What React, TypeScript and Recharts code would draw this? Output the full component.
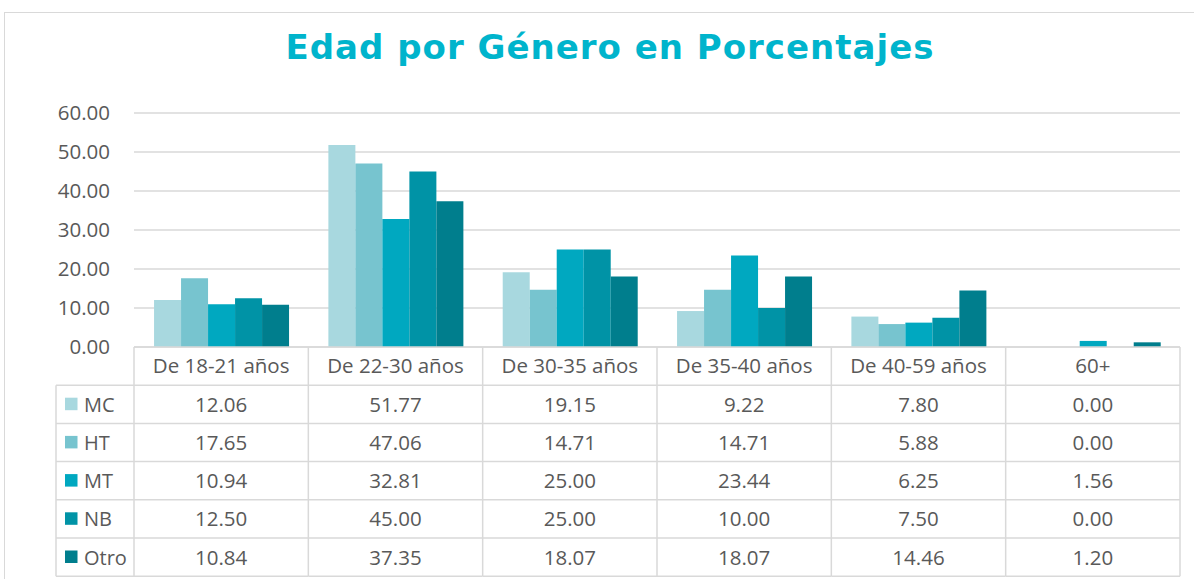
import React from "react";
import { BarChart, Bar, XAxis, YAxis, CartesianGrid } from "recharts";

const categories = [
  "De 18-21 años",
  "De 22-30 años",
  "De 30-35 años",
  "De 35-40 años",
  "De 40-59 años",
  "60+",
];
const seriesNames = ["MC", "HT", "MT", "NB", "Otro"];
const mc = [12.06, 51.77, 19.15, 9.22, 7.8, 0.0];
const ht = [17.65, 47.06, 14.71, 14.71, 5.88, 0.0];
const mt = [10.94, 32.81, 25.0, 23.44, 6.25, 1.56];
const nb = [12.5, 45.0, 25.0, 10.0, 7.5, 0.0];
const otro = [10.84, 37.35, 18.07, 18.07, 14.46, 1.2];
const yTicks = [0, 10, 20, 30, 40, 50, 60];

const colors = ["#A8D8DF", "#77C4CF", "#00A8C0", "#0093A6", "#007E8D"];
const seriesValues = [mc, ht, mt, nb, otro];

const data = categories.map((name, i) => {
  const row: Record<string, string | number> = { name };
  seriesNames.forEach((s, j) => {
    row[s] = seriesValues[j][i];
  });
  return row;
});

const W = 1194;
const H = 579;
const PLOT_LEFT = 134;
const PLOT_RIGHT = 1180;
const BAND = (PLOT_RIGHT - PLOT_LEFT) / categories.length;
const ROW_H = 38.2;
const LINE = "#d9d9d9";
const TEXT = "#595959";
const FONT = "'Open Sans', sans-serif";
const FS = 20.5;

function TableTick(props: any) {
  const { x, y, payload } = props;
  const i = payload.index;
  const left = x - BAND / 2;
  const right = x + BAND / 2;
  const bottom = y + ROW_H * 6;
  return (
    <g fontFamily={FONT} fontSize={FS} fill={TEXT}>
      <line x1={right} y1={y} x2={right} y2={bottom} stroke={LINE} strokeWidth={1.5} />
      {i === 0 && (
        <g>
          <line x1={left} y1={y} x2={left} y2={bottom} stroke={LINE} strokeWidth={1.5} />
          <line x1={56} y1={y + ROW_H} x2={56} y2={bottom} stroke={LINE} strokeWidth={1.5} />
          {seriesNames.map((s, j) => {
            const top = y + ROW_H * (j + 1);
            return (
              <g key={s}>
                <line x1={56} y1={top} x2={left} y2={top} stroke={LINE} strokeWidth={1.5} />
                <rect x={65} y={top + 12.5} width={12.5} height={12.5} fill={colors[j]} />
                <text x={84} y={top + 26.5} fill={TEXT} fontSize={20}>
                  {s}
                </text>
              </g>
            );
          })}
          <line x1={56} y1={bottom} x2={left} y2={bottom} stroke={LINE} strokeWidth={1.5} />
        </g>
      )}
      <text x={x} y={y + 26} textAnchor="middle" fill={TEXT}>
        {payload.value}
      </text>
      {seriesNames.map((s, j) => {
        const top = y + ROW_H * (j + 1);
        return (
          <g key={s}>
            <line x1={left} y1={top} x2={right} y2={top} stroke={LINE} strokeWidth={1.5} />
            <text x={x} y={top + 26.5} textAnchor="middle" fill={TEXT}>
              {seriesValues[j][i].toFixed(2)}
            </text>
          </g>
        );
      })}
      <line x1={left} y1={bottom} x2={right} y2={bottom} stroke={LINE} strokeWidth={1.5} />
    </g>
  );
}

export default function App() {
  return (
    <div
      style={{
        position: "absolute",
        left: 0,
        top: 0,
        width: W,
        height: H,
        overflow: "hidden",
        background: "#fff",
      }}
    >
      <div
        style={{
          position: "absolute",
          left: 4,
          top: 12,
          width: W + 20,
          height: H + 20,
          border: "1.5px solid #d9d9d9",
        }}
      />
      <div
        style={{
          position: "absolute",
          left: 0,
          top: 30,
          width: 1220,
          textAlign: "center",
          fontFamily: "'DejaVu Sans', sans-serif",
          fontWeight: 700,
          fontSize: 34,
          lineHeight: "34px",
          letterSpacing: 1,
          color: "#00B4CC",
        }}
      >
        Edad por Género en Porcentajes
      </div>
      <div style={{ position: "absolute", left: 0, top: 0 }}>
        <BarChart
          width={W}
          height={H}
          data={data}
          margin={{ top: 113, right: W - PLOT_RIGHT, left: 0, bottom: 0 }}
          barCategoryGap="11.5%"
          barGap={0}
        >
          <CartesianGrid vertical={false} stroke={LINE} strokeWidth={1.5} />
          <YAxis
            width={PLOT_LEFT}
            domain={[0, 60]}
            ticks={yTicks}
            axisLine={false}
            tickLine={false}
            tickMargin={18}
            tickFormatter={(v: number) => v.toFixed(2)}
            tick={{ fill: TEXT, fontSize: FS, fontFamily: FONT }}
          />
          <XAxis
            dataKey="name"
            height={H - 347}
            axisLine={{ stroke: LINE, strokeWidth: 1.5 }}
            tickLine={false}
            tickSize={0}
            tickMargin={0}
            interval={0}
            tick={<TableTick />}
          />
          {seriesNames.map((s, j) => (
            <Bar key={s} dataKey={s} fill={colors[j]} isAnimationActive={false} />
          ))}
        </BarChart>
      </div>
    </div>
  );
}
